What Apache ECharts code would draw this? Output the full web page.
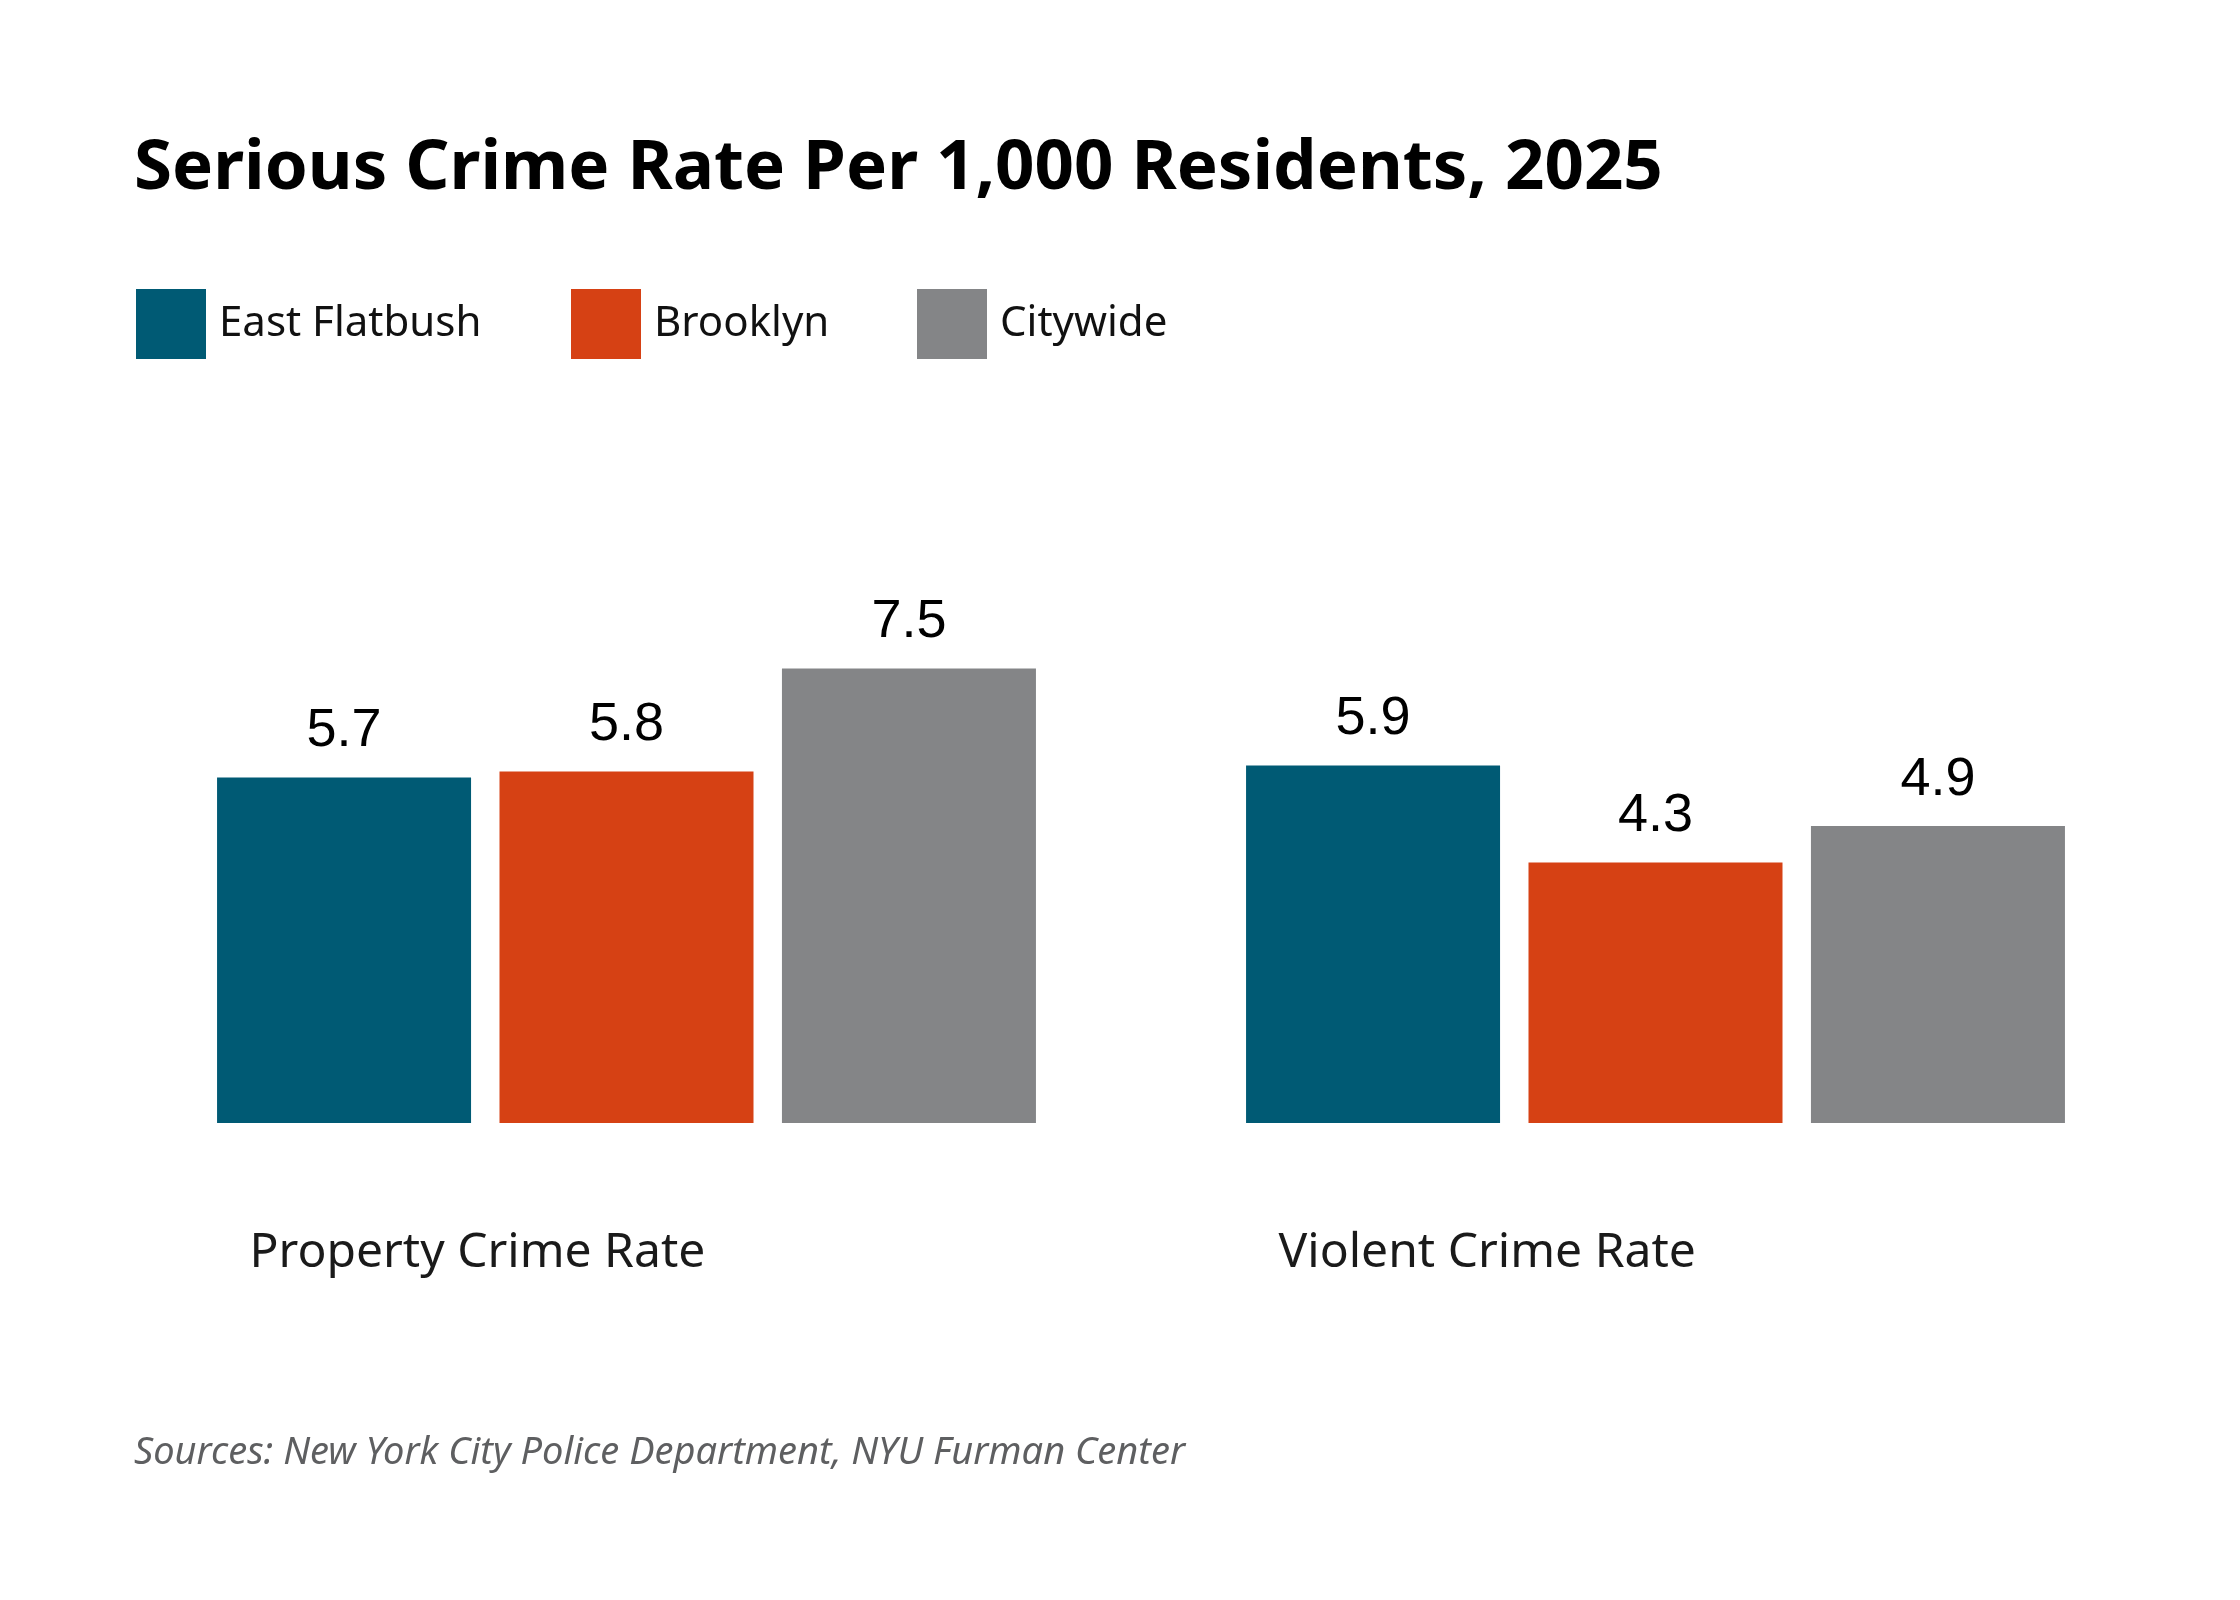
<!DOCTYPE html>
<html>
<head>
<meta charset="utf-8">
<title>Serious Crime Rate Per 1,000 Residents, 2025</title>
<script src="https://cdn.jsdelivr.net/npm/echarts@6/dist/echarts.min.js"></script>
<style>
	html, body { margin: 0; padding: 0; background: #fff; }
	#crimeChart { width: 2240px; height: 1600px; }
</style>
</head>
<body>
<div id="crimeChart"></div>
<script>
// data
var categories = ['Property Crime Rate', 'Violent Crime Rate'];
var seriesNames = ['East Flatbush', 'Brooklyn', 'Citywide'];
var eastFlatbush = [5.7, 5.9];
var brooklyn = [5.8, 4.3];
var citywide = [7.5, 4.9];

var colors = ['#005a74', '#d64114', '#848587'];
var seriesData = [eastFlatbush, brooklyn, citywide];
var legendLeft = [136, 571, 917];

var chart = echarts.init(document.getElementById('crimeChart'));

var series = [];
var legends = [];
for (var i = 0; i < seriesNames.length; i++)
{
	series.push({
		name: seriesNames[i],
		type: 'bar',
		barWidth: 254,
		barGap: '11.2%',
		itemStyle: { color: colors[i] },
		label: {
			show: true,
			position: 'top',
			distance: 19,
			color: '#000',
			fontFamily: 'Liberation Sans',
			fontSize: 54
		},
		data: seriesData[i]
	});
	// one legend per item so the boxes sit where the reference has them
	legends.push({
		data: [seriesNames[i]],
		left: legendLeft[i],
		top: 289,
		padding: 0,
		icon: 'rect',
		itemWidth: 70,
		itemHeight: 70,
		selectedMode: false,
		textStyle: {
			color: '#111',
			fontFamily: 'Noto Sans',
			fontSize: 42,
			padding: [6, 0, 0, 8]
		}
	});
}

var option = {
	backgroundColor: '#fff',
	animation: false,
	title: [
		{
			text: 'Serious Crime Rate Per 1,000 Residents, 2025',
			left: 134,
			top: 135,
			padding: 0,
			textStyle: {
				color: '#000',
				fontFamily: 'Noto Sans',
				fontWeight: 'bold',
				fontSize: 69
			}
		},
		{
			text: 'Sources: New York City Police Department, NYU Furman Center',
			left: 134,
			top: 1434,
			padding: 0,
			textStyle: {
				color: '#5e5f61',
				fontFamily: 'Noto Sans',
				fontStyle: 'italic',
				fontWeight: 'normal',
				fontSize: 38
			}
		}
	],
	legend: legends,
	grid: {
		left: 112,
		right: 70,
		top: 517,
		bottom: 477,
		containLabel: false
	},
	xAxis: {
		type: 'category',
		data: categories,
		axisLine: { show: false },
		axisTick: { show: false },
		axisLabel: {
			margin: 106,
			align: 'left',
			padding: [0, 0, 0, -377],
			color: '#1a1a1a',
			fontFamily: 'Noto Sans',
			fontSize: 48
		}
	},
	yAxis: {
		type: 'value',
		min: 0,
		max: 10,
		show: false,
		splitLine: { show: false }
	},
	series: series
};

chart.setOption(option);
</script>
</body>
</html>
